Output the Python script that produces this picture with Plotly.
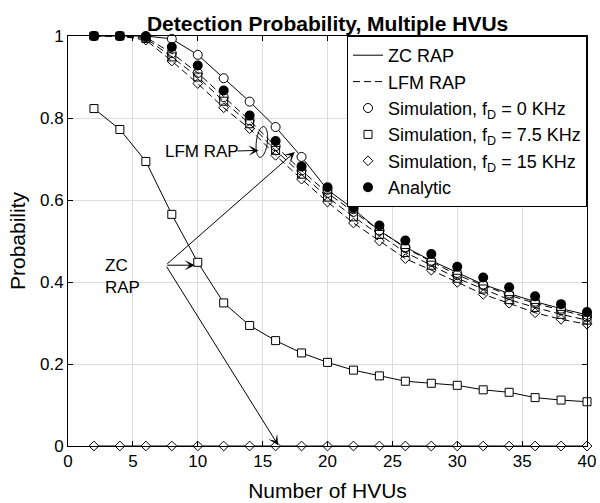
import numpy as np
import plotly.graph_objects as go

# Number of HVUs on the x axis
n_hvus = [2, 4, 6, 8, 10, 12, 14, 16, 18, 20, 22, 24, 26, 28, 30, 32, 34, 36, 38, 40]

# ZC RAP simulation results for three Doppler offsets
zc_sim_0khz = [1.0, 1.0, 1.0, 0.993, 0.954, 0.897, 0.840, 0.778, 0.705, 0.625,
               0.578, 0.525, 0.485, 0.452, 0.422, 0.394, 0.372, 0.352, 0.335, 0.320]
zc_sim_7p5khz = [0.823, 0.772, 0.694, 0.565, 0.448, 0.349, 0.294, 0.257, 0.227, 0.204,
                 0.185, 0.171, 0.158, 0.153, 0.148, 0.137, 0.131, 0.118, 0.112, 0.108]
zc_sim_15khz = [0.0] * 20

# LFM RAP simulation results for three Doppler offsets
lfm_sim_0khz = [1.0, 1.0, 0.997, 0.958, 0.910, 0.851, 0.794, 0.731, 0.672, 0.617,
                0.571, 0.526, 0.483, 0.449, 0.417, 0.392, 0.368, 0.348, 0.331, 0.315]
lfm_sim_7p5khz = [1.0, 1.0, 0.994, 0.949, 0.900, 0.841, 0.786, 0.721, 0.663, 0.607,
                  0.559, 0.516, 0.472, 0.441, 0.409, 0.383, 0.357, 0.338, 0.321, 0.307]
lfm_sim_15khz = [1.0, 1.0, 0.990, 0.939, 0.884, 0.825, 0.774, 0.709, 0.651, 0.595,
                 0.544, 0.500, 0.457, 0.429, 0.399, 0.370, 0.348, 0.325, 0.309, 0.297]

# Analytic detection probability
analytic = [1.0, 1.0, 0.999, 0.973, 0.928, 0.867, 0.806, 0.744, 0.682, 0.631,
            0.582, 0.538, 0.501, 0.468, 0.437, 0.411, 0.387, 0.365, 0.346, 0.327]

x_ticks = [0, 5, 10, 15, 20, 25, 30, 35, 40]
y_ticks = [0, 0.2, 0.4, 0.6, 0.8, 1.0]
y_tick_text = ["0", "0.2", "0.4", "0.6", "0.8", "1"]

FONT = "Liberation Sans, Arial, Helvetica, sans-serif"
BLACK = "#000000"

fig = go.Figure()

# Solid ZC RAP curves
for i, ys in enumerate([zc_sim_0khz, zc_sim_7p5khz, zc_sim_15khz]):
    fig.add_trace(go.Scatter(
        x=n_hvus, y=ys, mode="lines", name="ZC RAP", showlegend=(i == 0),
        line=dict(color=BLACK, width=1), cliponaxis=False))

# Dashed LFM RAP curves
for i, ys in enumerate([lfm_sim_0khz, lfm_sim_7p5khz, lfm_sim_15khz]):
    fig.add_trace(go.Scatter(
        x=n_hvus, y=ys, mode="lines", name="LFM RAP", showlegend=(i == 0),
        line=dict(color=BLACK, width=1, dash="7px,4px"), cliponaxis=False))

sim_names = ["Simulation, f<sub>D</sub> = 0 KHz",
             "Simulation, f<sub>D</sub> = 7.5 KHz",
             "Simulation, f<sub>D</sub> = 15 KHz"]
symbols = [("circle", 9), ("square", 8), ("diamond", 7.5)]
zc_sets = [zc_sim_0khz, zc_sim_7p5khz, zc_sim_15khz]
lfm_sets = [lfm_sim_0khz, lfm_sim_7p5khz, lfm_sim_15khz]

for name, (sym, size), zc_y, lfm_y in zip(sim_names, symbols, zc_sets, lfm_sets):
    fig.add_trace(go.Scatter(
        x=n_hvus, y=zc_y, mode="markers", name=name, showlegend=True,
        marker=dict(symbol=sym, size=size, color="white",
                    line=dict(color=BLACK, width=1)),
        cliponaxis=False))
    fig.add_trace(go.Scatter(
        x=n_hvus, y=lfm_y, mode="markers", name=name, showlegend=False,
        marker=dict(symbol=sym + "-open", size=size, color=BLACK,
                    line=dict(color=BLACK, width=1)),
        cliponaxis=False))

fig.add_trace(go.Scatter(
    x=n_hvus, y=analytic, mode="markers", name="Analytic",
    marker=dict(symbol="circle", size=10, color=BLACK), cliponaxis=False))

# Callout text
fig.add_annotation(x=10.3, y=0.719, text="LFM RAP", showarrow=False,
                   font=dict(family=FONT, size=17, color=BLACK),
                   xanchor="center", yanchor="middle")
fig.add_annotation(x=2.68, y=0.413, text="ZC<br>RAP", showarrow=False, align="left",
                   font=dict(family=FONT, size=17, color=BLACK),
                   xanchor="left", yanchor="middle")

# Callout arrows (tail at ax/ay, head at x/y)
arrows = [
    ((12.96, 0.7195), (14.70, 0.721)),
    ((7.53, 0.441), (9.77, 0.441)),
    ((7.53, 0.441), (16.20, 0.002)),
    ((7.53, 0.441), (17.48, 0.717)),
]
for (tx, ty), (hx, hy) in arrows:
    fig.add_annotation(x=hx, y=hy, ax=tx, ay=ty, xref="x", yref="y",
                       axref="x", ayref="y", text="", showarrow=True,
                       arrowhead=3, arrowsize=1.7, arrowwidth=1,
                       arrowcolor=BLACK, standoff=0, startstandoff=0)

# Tilted ellipse around the LFM curves
px_per_x, px_per_y = 12.967, 410.4
cx, cy, a, b, tilt = 14.94, 0.7415, 5.5, 15.5, np.deg2rad(-7)
t = np.linspace(0, 2 * np.pi, 60)
ex = (a * np.cos(t) * np.cos(tilt) - b * np.sin(t) * np.sin(tilt)) / px_per_x + cx
ey = (a * np.cos(t) * np.sin(tilt) + b * np.sin(t) * np.cos(tilt)) / px_per_y + cy
path = "M " + " L ".join(f"{u:.4f},{v:.5f}" for u, v in zip(ex, ey)) + " Z"
fig.add_shape(type="path", path=path, xref="x", yref="y",
              line=dict(color=BLACK, width=1))

axis_common = dict(
    showline=True, linecolor=BLACK, linewidth=1, mirror="ticks",
    ticks="inside", ticklen=5, tickcolor=BLACK, tickwidth=1,
    showgrid=True, gridcolor="#dcdcdc", gridwidth=1, zeroline=False,
    tickfont=dict(family=FONT, size=17, color=BLACK), automargin=False,
)

fig.update_xaxes(range=[0, 40], tickvals=x_ticks,
                 title=dict(text="Number of HVUs", standoff=12,
                            font=dict(family=FONT, size=21, color=BLACK)),
                 **axis_common)
fig.update_yaxes(range=[0, 1], tickvals=y_ticks, ticktext=y_tick_text,
                 title=dict(text="Probability", standoff=8,
                            font=dict(family=FONT, size=21, color=BLACK)),
                 **axis_common)

fig.update_layout(
    width=600, height=503,
    margin=dict(l=68, r=13, t=36, b=57),
    paper_bgcolor="white", plot_bgcolor="white",
    font=dict(family=FONT, color=BLACK),
    title=dict(text="<b>Detection Probability, Multiple HVUs</b>",
               x=0.546, xanchor="center", y=0.953, yanchor="middle",
               font=dict(family=FONT, size=21, color=BLACK)),
    legend=dict(x=1, xanchor="right", y=1, yanchor="top",
                bgcolor="white", bordercolor=BLACK, borderwidth=1,
                font=dict(family=FONT, size=18, color=BLACK),
                tracegroupgap=0),
    showlegend=True,
)

fig.write_html("out.html")
